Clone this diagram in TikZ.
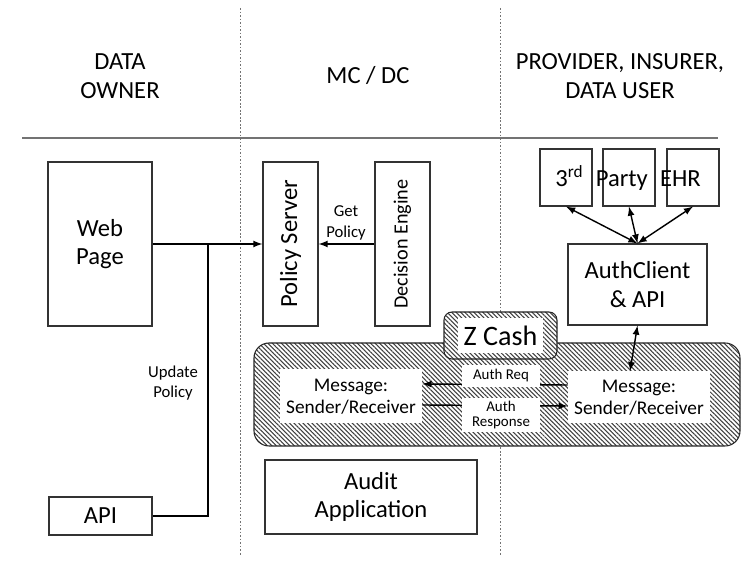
\documentclass[tikz,border=0pt]{standalone}
\usepackage{fontspec}
\setmainfont{Carlito}
\usetikzlibrary{patterns.meta}

\begin{document}
\begin{tikzpicture}[
    every node/.style={font=\fontsize{14}{16}\selectfont, align=center},
    box/.style={rectangle, draw=black!80, line width=0.6pt, fill=white, inner sep=2pt},
    hatch/.style={rectangle, draw=black!85, line width=0.6pt, preaction={fill=white},
                  pattern={Lines[angle=-45, distance=1.8pt, line width=0.6pt]}, pattern color=black!75},
    plain/.style={rectangle, fill=white, inner sep=1pt},
    small/.style={font=\fontsize{9.5}{11.5}\selectfont},
    tiny/.style={font=\fontsize{8.5}{9}\selectfont},
    arr/.style={-latex, line width=0.8pt},
    darr/.style={latex-latex, line width=0.8pt},
    link/.style={line width=0.8pt},
    divider/.style={black!55, line width=0.5pt, dash pattern=on 1pt off 1pt},
]
    \useasboundingbox (0,0) rectangle (15,11.26);
    \node[font=\fontsize{14}{16.5}\selectfont] (owner) at (2.4,9.73) {DATA\\ OWNER};
    \node (mcdc) at (7.36,9.76) {MC / DC};
    \node[font=\fontsize{14}{16.5}\selectfont] (user) at (12.4,9.73) {PROVIDER, INSURER,\\ DATA USER};
    \draw[black!55, line width=0.6pt] (0.44,8.5) -- (14.36,8.5);
    \draw[divider] (4.8,11.1) -- (4.8,0.16);
    \draw[divider] (10.0,11.1) -- (10.0,0.16);
    \node[box, minimum width=2.08cm, minimum height=3.28cm] (web) at (2.0,6.38) {Web\\ Page};
    \node[box, rotate=90, minimum width=3.28cm, minimum height=1.1cm] (policy) at (5.81,6.38) {Policy Server};
    \node[box, rotate=90, minimum width=3.28cm, minimum height=1.1cm, font=\fontsize{11.5}{14}\selectfont] (engine) at (8.05,6.38) {Decision Engine};
    \node[box, minimum width=2.06cm, minimum height=0.76cm] (api) at (2.01,0.94) {API};
    \coordinate (join) at (4.16,6.38);
    \draw[arr] (web.east) -- (policy);
    \draw[arr] (engine) -- (policy);
    \draw[link] (api.east) -| (join);
    \node[small] (getpol) at (6.92,6.8) {Get\\ Policy};
    \node[small] (updpol) at (3.46,3.6) {Update\\ Policy};
    \node[box, minimum width=1.04cm, minimum height=1.14cm] (third) at (11.32,7.71) {};
    \node[box, minimum width=1.04cm, minimum height=1.14cm] (party) at (12.58,7.71) {};
    \node[box, minimum width=1.04cm, minimum height=1.14cm] (ehr) at (13.86,7.71) {};
    \node[anchor=base west, inner sep=0pt] (partylbl) at (11.1,7.53) {3\textsuperscript{rd}\hspace{7pt}Party\hspace{7pt}EHR};
    \node[box, minimum width=2.78cm, minimum height=1.62cm] (authc) at (12.75,5.57) {AuthClient\\ \& API};
    \draw[darr] (authc.north) -- (third.south);
    \draw[darr] (authc.north) -- (party.south);
    \draw[darr] (authc.north) -- (ehr.south);
    \node[hatch, rounded corners=0.3cm, minimum width=9.72cm, minimum height=2.06cm] (chain) at (9.94,3.37) {};
    \node[hatch, rounded corners=0.16cm, minimum width=2.26cm, minimum height=0.94cm] (zcash) at (10.01,4.55) {};
    \node[plain, minimum width=1.7cm, minimum height=0.7cm, font=\fontsize{16}{19}\selectfont] (zcashlbl) at (zcash) {Z Cash};
    \node[plain, minimum width=2.84cm, minimum height=1.08cm, font=\fontsize{11}{12.5}\selectfont] (msgL) at (7.02,3.33) {Message:\\ Sender/Receiver};
    \node[plain, minimum width=2.84cm, minimum height=1.04cm, font=\fontsize{11}{12.5}\selectfont] (msgR) at (12.78,3.31) {Message:\\ Sender/Receiver};
    \draw[arr] ([yshift=0.25cm]msgR.west) -- ([yshift=0.25cm]msgL.east);
    \draw[arr] ([yshift=-0.17cm]msgL.east) -- ([yshift=-0.17cm]msgR.west);
    \node[plain, tiny, minimum width=1.56cm, minimum height=0.44cm] (req) at (10.02,3.74) {Auth Req};
    \node[plain, tiny, minimum width=1.56cm, minimum height=0.68cm] (resp) at (10.02,2.96) {Auth\\ Response};
    \draw[darr] ([xshift=-0.18cm]msgR.north) -- (authc.south);
    \node[box, minimum width=4.24cm, minimum height=1.48cm] (audit) at (7.42,1.32) {Audit\\ Application};
\end{tikzpicture}
\end{document}
